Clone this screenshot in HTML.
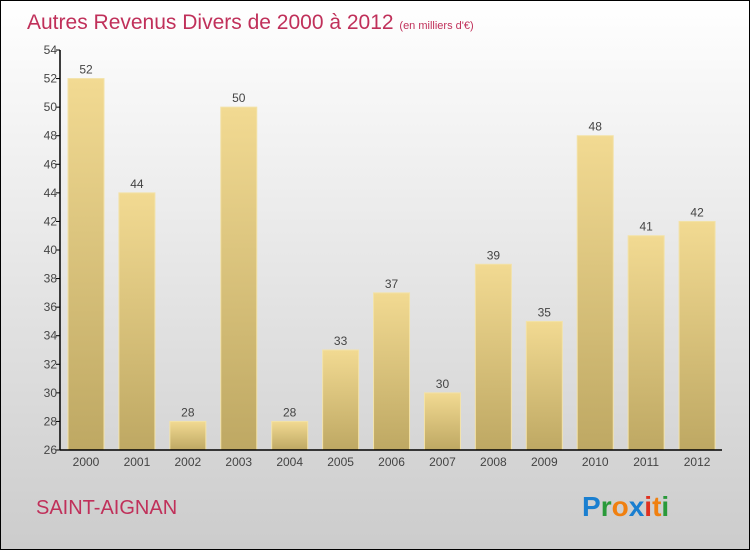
<!DOCTYPE html>
<html><head><meta charset="utf-8"><style>
body{margin:0;width:750px;height:550px;overflow:hidden;font-family:"Liberation Sans",sans-serif}
</style></head><body>
<svg width="750" height="550" xmlns="http://www.w3.org/2000/svg">
<defs>
<linearGradient id="bg" x1="0" y1="0" x2="0" y2="1"><stop offset="0" stop-color="#ffffff"/><stop offset="1" stop-color="#cccccc"/></linearGradient>
<linearGradient id="bar" x1="0" y1="0" x2="0" y2="1"><stop offset="0" stop-color="#f2da92"/><stop offset="1" stop-color="#bea863"/></linearGradient>
</defs>
<rect x="0.5" y="0.5" width="749" height="549" fill="url(#bg)" stroke="#000"/>
<text x="27" y="29" font-size="21" fill="#c0305a">Autres Revenus Divers de 2000 à 2012 <tspan font-size="11">(en milliers d'€)</tspan></text>
<g id="plot"></g>
<text x="36" y="514" font-size="20" fill="#c0305a">SAINT-AIGNAN</text>
<g font-size="28" font-weight="bold" font-family="Liberation Sans, sans-serif">
<text x="582" y="516"><tspan fill="#1a7fd0">P</tspan><tspan fill="#2a9a3a">r</tspan><tspan fill="#f08010">o</tspan><tspan fill="#1a7fd0">x</tspan><tspan fill="#e03020">i</tspan><tspan fill="#f08010">t</tspan><tspan fill="#2a9a3a">i</tspan></text>
</g>
</svg>
<script>
const years=["2000","2001","2002","2003","2004","2005","2006","2007","2008","2009","2010","2011","2012"];
const values=[52,44,28,50,28,33,37,30,39,35,48,41,42];
const yTicks=[26,28,30,32,34,36,38,40,42,44,46,48,50,52,54];
const NS="http://www.w3.org/2000/svg";
const g=document.getElementById('plot');
const x0=60,x1=722,yTop=50,yBot=450,vMin=26,vMax=54;
const band=(x1-x0)/years.length;
function y(v){return yBot-(v-vMin)/(vMax-vMin)*(yBot-yTop);}
function xs(i){return x0+i*band;}
function mk(t,a,txt){const e=document.createElementNS(NS,t);for(const k in a)e.setAttribute(k,a[k]);if(txt!=null)e.textContent=txt;g.appendChild(e);return e;}
values.forEach((v,i)=>{
 const bx=xs(i)+8,bw=36;
 const r=mk('rect',{x:bx,y:y(v),width:bw,height:yBot-y(v),fill:'url(#bar)',stroke:'#f3e2a8','stroke-width':1});
 
 
 const l=mk('text',{x:bx+bw/2,y:y(v)-5,'text-anchor':'middle','font-size':12,fill:'#444'},v);
 
 
 const t=mk('text',{x:bx+bw/2,y:yBot+16,'text-anchor':'middle','font-size':12,fill:'#444'},years[i]);
 
 
});
yTicks.forEach(v=>{
 mk('line',{x1:x0-4,x2:x0,y1:y(v),y2:y(v),stroke:'#000'});
 const t=mk('text',{x:x0-3,y:y(v)+4,'text-anchor':'end','font-size':12,fill:'#444'},v);
 
 
});
const ya=mk('line',{x1:x0,x2:x0,y1:yTop,y2:yBot,stroke:'#000','stroke-width':1.5});


const xa=mk('line',{x1:x0,x2:x1,y1:yBot,y2:yBot,stroke:'#000','stroke-width':1.5});


</script>
</body></html>
